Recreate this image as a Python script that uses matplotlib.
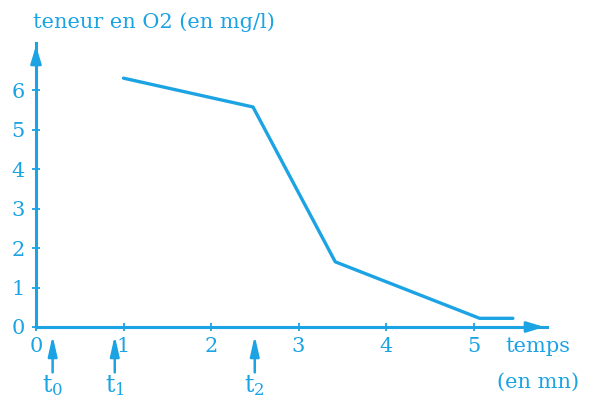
import matplotlib
matplotlib.use("Agg")
import matplotlib.pyplot as plt

# données
temps = [1.0, 2.48, 3.42, 5.07, 5.45]
teneur = [6.3, 5.57, 1.65, 0.22, 0.22]
x_ticks = [0, 1, 2, 3, 4, 5]
y_ticks = [0, 1, 2, 3, 4, 5, 6]
instants = [0.19, 0.9, 2.5]
instant_labels = [r"$\mathrm{t_0}$", r"$\mathrm{t_1}$", r"$\mathrm{t_2}$"]

BLUE = "#1ba3e3"

plt.rcParams.update({
    "font.family": "serif",
    "font.serif": ["DejaVu Serif", "Liberation Serif"],
    "mathtext.fontset": "dejavuserif",
    "font.size": 15,
})

fig = plt.figure(figsize=(5.97, 4.05), dpi=100)
ax = fig.add_axes([36 / 597, 78 / 405, 511 / 597, 284 / 405])

ax.plot(temps, teneur, color=BLUE, lw=2.4, solid_capstyle="round")

ax.set_xlim(0, 5.84)
ax.set_ylim(0, 7.19)
for s in ("top", "right"):
    ax.spines[s].set_visible(False)
for s in ("left", "bottom"):
    ax.spines[s].set_color(BLUE)
    ax.spines[s].set_linewidth(2.2)

# flèches au bout des axes
ax.annotate("", xy=(1, 0), xytext=(0.96, 0), xycoords="axes fraction",
            arrowprops=dict(arrowstyle="-|>,head_length=0.65,head_width=0.2",
                            color=BLUE, lw=2.0, mutation_scale=16),
            annotation_clip=False)
ax.annotate("", xy=(0, 1), xytext=(0, 0.94), xycoords="axes fraction",
            arrowprops=dict(arrowstyle="-|>,head_length=0.65,head_width=0.2",
                            color=BLUE, lw=2.0, mutation_scale=16),
            annotation_clip=False)

ax.set_xticks(x_ticks)
ax.set_yticks(y_ticks)
ax.tick_params(colors=BLUE, direction="inout", length=6, width=1.3,
               labelsize=15, labelcolor=BLUE)
ax.tick_params(axis="x", pad=4)
ax.tick_params(axis="y", pad=5)

# instants t0, t1, t2
for x, lab in zip(instants, instant_labels):
    ax.annotate("", xy=(x, -0.15), xytext=(x, -1.22),
                arrowprops=dict(arrowstyle="-|>,head_length=0.75,head_width=0.17",
                                color=BLUE, lw=1.8, mutation_scale=16),
                annotation_clip=False)
    ax.text(x, -1.47, lab, color=BLUE, ha="center", va="center",
            fontsize=17, clip_on=False)

fig.text(33 / 597, 1 - 22 / 405, "teneur en O2 (en mg/l)", color=BLUE,
         ha="left", va="center", fontsize=15)
fig.text(538 / 597, 1 - 347 / 405, "temps", color=BLUE,
         ha="center", va="center", fontsize=15)
fig.text(538 / 597, 1 - 382 / 405, "(en mn)", color=BLUE,
         ha="center", va="center", fontsize=15)

fig.savefig("out.png", dpi=100)
